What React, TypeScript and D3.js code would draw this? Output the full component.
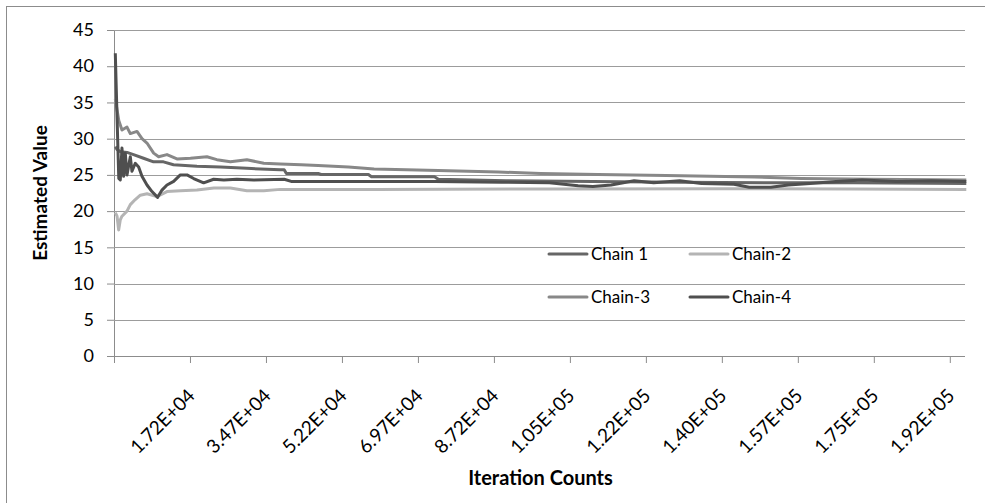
import { useEffect, useRef } from 'react'
import * as d3 from 'd3'

const WIDTH = 985
const HEIGHT = 503
const PLOT = { left: 114, right: 965, top: 30, bottom: 356 }
const FONT = 'Lato, "Open Sans", sans-serif'

const xDomain: [number, number] = [-300, 195700]
const yDomain: [number, number] = [0, 45]
const yTicks = [0, 5, 10, 15, 20, 25, 30, 35, 40, 45]
const xTickValues = [17200, 34700, 52200, 69700, 87200, 104700, 122200, 139700, 157200, 174700, 192200]
const xTickLabels = [
  '1.72E+04', '3.47E+04', '5.22E+04', '6.97E+04', '8.72E+04', '1.05E+05',
  '1.22E+05', '1.40E+05', '1.57E+05', '1.75E+05', '1.92E+05',
]

// [iteration, running estimate]
const chain1: [number, number][] = [
  [0, 28.9], [400, 28.5], [1200, 28.2], [2700, 28.1], [4200, 27.8], [6500, 27.3],
  [8800, 26.8], [11100, 26.8], [13400, 26.4], [18800, 26.2], [24200, 26.1],
  [30300, 25.9], [38000, 25.7], [38900, 25.7], [39400, 25.2], [46700, 25.2],
  [47400, 25.05], [58300, 25.05], [59000, 24.75], [73500, 24.75], [74400, 24.4],
  [90000, 24.2], [110000, 24.1], [130000, 24.0], [150000, 23.9], [170000, 23.9],
  [196000, 23.8],
]

const chain2: [number, number][] = [
  [0, 19.8], [400, 19.3], [770, 17.4], [1150, 18.8], [1536, 19.3], [2690, 20.0],
  [3456, 20.9], [4600, 21.6], [5760, 22.2], [7300, 22.4], [9600, 22.0],
  [11900, 22.7], [15000, 22.8], [18800, 22.9], [22700, 23.2], [26500, 23.2],
  [30300, 22.8], [34200, 22.8], [38000, 23.0], [60000, 23.0], [100000, 23.05],
  [140000, 23.1], [170000, 23.05], [196000, 23.0],
]

const chain3: [number, number][] = [
  [0, 35.5], [400, 34.0], [800, 32.5], [1536, 31.2], [2690, 31.6], [3456, 30.7],
  [4992, 31.0], [6144, 30.0], [7296, 29.4], [8832, 28.0], [9984, 27.5],
  [11900, 27.8], [14200, 27.2], [17300, 27.3], [21100, 27.5], [23400, 27.1],
  [26500, 26.8], [30300, 27.1], [34200, 26.6], [38000, 26.5], [42800, 26.4],
  [46700, 26.3], [53700, 26.1], [59600, 25.8], [74400, 25.6], [88200, 25.4],
  [98000, 25.2], [111200, 25.05], [126900, 24.9], [147200, 24.7], [158000, 24.5],
  [174000, 24.4], [196000, 24.3],
]

const chain4: [number, number][] = [
  [0, 41.8], [400, 33.0], [800, 24.5], [1150, 24.3], [1536, 28.7], [1920, 24.8],
  [2300, 28.0], [2690, 25.0], [3456, 27.5], [3840, 25.5], [4600, 26.6],
  [5376, 26.1], [6144, 24.8], [7296, 23.6], [8448, 22.7], [9750, 21.9],
  [10750, 22.9], [11900, 23.6], [13440, 24.1], [14976, 25.0], [16512, 25.0],
  [18048, 24.5], [20350, 23.9], [22656, 24.4], [25000, 24.3], [28000, 24.4],
  [31900, 24.3], [38900, 24.4], [40500, 24.1], [73500, 24.1], [89000, 24.0],
  [100000, 23.9], [106600, 23.5], [110000, 23.4], [114200, 23.6], [119500, 24.2],
  [124000, 23.9], [130000, 24.2], [135000, 23.8], [142500, 23.7], [146000, 23.3],
  [151000, 23.3], [155000, 23.6], [160000, 23.8], [166000, 24.1], [172000, 24.3],
  [180000, 24.1], [188000, 24.2], [196000, 24.1],
]

const seriesNames = ['Chain 1', 'Chain-2', 'Chain-3', 'Chain-4']
const seriesColors = ['#666666', '#b4b4b4', '#888888', '#4f4f4f']
const seriesData = [chain1, chain2, chain3, chain4]

export default function App() {
  const svgRef = useRef<SVGSVGElement | null>(null)

  useEffect(() => {
    if (!svgRef.current) return
    const svg = d3.select(svgRef.current)
    svg.selectAll('*').remove()

    const x = d3.scaleLinear().domain(xDomain).range([PLOT.left, PLOT.right])
    const y = d3.scaleLinear().domain(yDomain).range([PLOT.bottom, PLOT.top])

    svg.append('rect')
      .attr('width', WIDTH)
      .attr('height', HEIGHT)
      .attr('fill', '#fff')

    // chart frame
    svg.append('rect')
      .attr('x', 6.5)
      .attr('y', 6.5)
      .attr('width', WIDTH)
      .attr('height', HEIGHT)
      .attr('fill', 'none')
      .attr('stroke', '#8c8c8c')

    // y axis
    const yAxis = svg.append('g')
      .attr('transform', `translate(${PLOT.left},0)`)
      .call(
        d3.axisLeft(y)
          .tickValues(yTicks)
          .tickSize(7)
          .tickPadding(13)
          .tickFormat((d) => String(d))
      )
    yAxis.select('.domain').attr('stroke', '#8c8c8c')
    yAxis.selectAll('.tick line').attr('stroke', '#8c8c8c')
    yAxis.selectAll('.tick text')
      .attr('font-family', FONT)
      .attr('font-size', 18)
      .attr('fill', '#000')

    // gridlines
    svg.append('g')
      .selectAll('line')
      .data(yTicks.filter((t) => t > 0))
      .join('line')
      .attr('x1', PLOT.left)
      .attr('x2', PLOT.right)
      .attr('y1', (d) => Math.round(y(d)) + 0.5)
      .attr('y2', (d) => Math.round(y(d)) + 0.5)
      .attr('stroke', '#9c9c9c')
      .attr('stroke-width', 1.2)

    // x axis
    const xAxis = svg.append('g')
      .attr('transform', `translate(0,${PLOT.bottom})`)
      .call(
        d3.axisBottom(x)
          .tickValues([xDomain[0], ...xTickValues])
          .tickSize(7)
          .tickFormat(() => '')
      )
    xAxis.select('.domain').attr('stroke', '#8c8c8c').attr('d', `M${PLOT.left},0.5H${PLOT.right}`)
    xAxis.selectAll('.tick line').attr('stroke', '#8c8c8c')

    svg.append('g')
      .selectAll('text')
      .data(xTickValues)
      .join('text')
      .attr('transform', (d) => `translate(${x(d) + 6},${PLOT.bottom + 41}) rotate(-45)`)
      .attr('text-anchor', 'end')
      .attr('font-family', FONT)
      .attr('font-size', 19)
      .attr('fill', '#000')
      .text((_, i) => xTickLabels[i])

    // series
    const line = d3.line<[number, number]>()
      .x((d) => x(d[0]))
      .y((d) => y(d[1]))

    svg.append('g')
      .selectAll('path')
      .data(seriesData)
      .join('path')
      .attr('d', (d) => line(d))
      .attr('fill', 'none')
      .attr('stroke', (_, i) => seriesColors[i])
      .attr('stroke-width', 3)
      .attr('stroke-linejoin', 'round')

    // legend
    const legend = svg.append('g')
    const item = legend.selectAll('g')
      .data(seriesNames)
      .join('g')
      .attr('transform', (_, i) => `translate(${549 + (i % 2) * 141},${254 + Math.floor(i / 2) * 43})`)
    item.append('line')
      .attr('x1', 0)
      .attr('x2', 38)
      .attr('stroke', (_, i) => seriesColors[i])
      .attr('stroke-width', 3)
      .attr('stroke-linecap', 'round')
    item.append('text')
      .attr('x', 42)
      .attr('dy', '0.35em')
      .attr('font-family', FONT)
      .attr('font-size', 17)
      .attr('fill', '#000')
      .text((d) => d)

    // axis titles
    svg.append('text')
      .attr('x', (PLOT.left + PLOT.right) / 2 + 1)
      .attr('y', 485)
      .attr('text-anchor', 'middle')
      .attr('font-family', FONT)
      .attr('font-weight', 'bold')
      .attr('font-size', 20)
      .text('Iteration Counts')

    svg.append('text')
      .attr('transform', `translate(47,${(PLOT.top + PLOT.bottom) / 2}) rotate(-90)`)
      .attr('text-anchor', 'middle')
      .attr('font-family', FONT)
      .attr('font-weight', 'bold')
      .attr('font-size', 19)
      .text('Estimated Value')
  }, [])

  return (
    <svg
      ref={svgRef}
      width={WIDTH}
      height={HEIGHT}
      style={{ position: 'absolute', left: 0, top: 0, display: 'block' }}
    />
  )
}
